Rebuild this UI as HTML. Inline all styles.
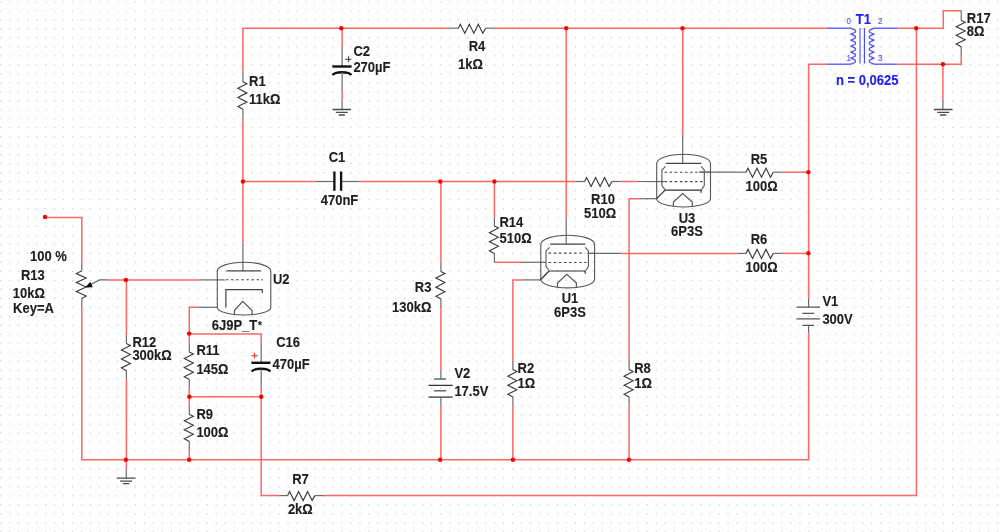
<!DOCTYPE html>
<html><head><meta charset="utf-8"><title>Schematic</title>
<style>html,body{margin:0;padding:0;background:#fff;width:1000px;height:532px;overflow:hidden}
svg{display:block;will-change:transform;font-family:"Liberation Sans",sans-serif}</style></head>
<body><svg width="1000" height="532" viewBox="0 0 1000 532">
<rect width="1000" height="532" fill="#fff"/>
<path d="M0.1,2 H1001 M0.1,10.98 H1001 M0.1,19.96 H1001 M0.1,28.94 H1001 M0.1,37.92 H1001 M0.1,46.9 H1001 M0.1,55.88 H1001 M0.1,64.86 H1001 M0.1,73.84 H1001 M0.1,82.82 H1001 M0.1,91.8 H1001 M0.1,100.78 H1001 M0.1,109.76 H1001 M0.1,118.74 H1001 M0.1,127.72 H1001 M0.1,136.7 H1001 M0.1,145.68 H1001 M0.1,154.66 H1001 M0.1,163.64 H1001 M0.1,172.62 H1001 M0.1,181.6 H1001 M0.1,190.58 H1001 M0.1,199.56 H1001 M0.1,208.54 H1001 M0.1,217.52 H1001 M0.1,226.5 H1001 M0.1,235.48 H1001 M0.1,244.46 H1001 M0.1,253.44 H1001 M0.1,262.42 H1001 M0.1,271.4 H1001 M0.1,280.38 H1001 M0.1,289.36 H1001 M0.1,298.34 H1001 M0.1,307.32 H1001 M0.1,316.3 H1001 M0.1,325.28 H1001 M0.1,334.26 H1001 M0.1,343.24 H1001 M0.1,352.22 H1001 M0.1,361.2 H1001 M0.1,370.18 H1001 M0.1,379.16 H1001 M0.1,388.14 H1001 M0.1,397.12 H1001 M0.1,406.1 H1001 M0.1,415.08 H1001 M0.1,424.06 H1001 M0.1,433.04 H1001 M0.1,442.02 H1001 M0.1,451 H1001 M0.1,459.98 H1001 M0.1,468.96 H1001 M0.1,477.94 H1001 M0.1,486.92 H1001 M0.1,495.9 H1001 M0.1,504.88 H1001 M0.1,513.86 H1001 M0.1,522.84 H1001 M0.1,531.82 H1001" stroke="#cbcbcb" stroke-width="1.2" stroke-dasharray="1.2 7.78" fill="none"/>
<path d="M242.9,73.2 L242.9,28.2 L449.9,28.2" stroke="#ff6666" stroke-width="1.5" fill="none" />
<path d="M494,28.2 L826.7,28.2" stroke="#ff6666" stroke-width="1.5" fill="none" />
<path d="M242.9,73.2 L242.9,81.8" stroke="#6a6a6a" stroke-width="1.2" fill="none" />
<path d="M242.9,81.8 L246.9,83.81 L237.9,88.35 L246.9,92.88 L237.9,97.41 L246.9,101.95 L237.9,106.48 L242.9,109.3" stroke="#3c3c3c" stroke-width="1.15" fill="none" />
<path d="M242.9,109.3 L242.9,117.9" stroke="#6a6a6a" stroke-width="1.2" fill="none" />
<path d="M242.9,117.9 L242.9,243.5" stroke="#ff6666" stroke-width="1.5" fill="none" />
<path d="M242.9,243.5 L242.9,271" stroke="#6a6a6a" stroke-width="1.2" fill="none" />
<path d="M342.1,28.2 L342.1,46.8" stroke="#ff6666" stroke-width="1.5" fill="none" />
<path d="M342.1,46.8 L342.1,66.5" stroke="#6a6a6a" stroke-width="1.2" fill="none" />
<path d="M332.3,66.5 H351.6" stroke="#111" stroke-width="2.4"/>
<path d="M332.6,75.2 C335,71.2 349,71.2 351.3,75.2" stroke="#111" stroke-width="2.4" fill="none"/>
<path d="M342.1,72.2 L342.1,91.1" stroke="#6a6a6a" stroke-width="1.2" fill="none" />
<path d="M342.1,91.1 L342.1,99.4" stroke="#ff6666" stroke-width="1.5" fill="none" />
<path d="M342.1,99.4 L342.1,109.5" stroke="#6a6a6a" stroke-width="1.2" fill="none" />
<path d="M332.6,109.5 h18.4 M335.8,112.4 h12 M338.7,115 h6.2" stroke="#4a4a4a" stroke-width="1.3" fill="none"/>
<path d="M345.4,59.3 h6 M348.6,56.3 v5.8" stroke="#333" stroke-width="1"/>
<path d="M449.9,28.2 L458.3,28.2" stroke="#6a6a6a" stroke-width="1.2" fill="none" />
<path d="M458.3,28.2 L460.3,24.2 L464.8,33.2 L469.3,24.2 L473.8,33.2 L478.3,24.2 L482.8,33.2 L485.6,28.2" stroke="#3c3c3c" stroke-width="1.15" fill="none" stroke-linejoin="miter"/>
<path d="M485.6,28.2 L494,28.2" stroke="#6a6a6a" stroke-width="1.2" fill="none" />
<path d="M566.2,28.2 L566.2,217.5" stroke="#ff6666" stroke-width="1.5" fill="none" />
<path d="M566.2,217.5 L566.2,243.8" stroke="#6a6a6a" stroke-width="1.2" fill="none" />
<path d="M682.7,28.2 L682.7,135.8" stroke="#ff6666" stroke-width="1.5" fill="none" />
<path d="M682.7,135.8 L682.7,163.3" stroke="#6a6a6a" stroke-width="1.2" fill="none" />
<path d="M826.7,64.2 L808.6,64.2 L808.6,298.4" stroke="#ff6666" stroke-width="1.5" fill="none" />
<path d="M808.6,298.4 L808.6,307.2" stroke="#6a6a6a" stroke-width="1.2" fill="none" />
<path d="M796.4,307.2 H820.1 M796.4,318.8 H820.1" stroke="#555" stroke-width="1.3"/>
<path d="M802.4,313.3 H814 M802.4,325.4 H814" stroke="#555" stroke-width="1.3"/>
<path d="M808.6,325.4 L808.6,333.3" stroke="#6a6a6a" stroke-width="1.2" fill="none" />
<path d="M808.6,333.3 L808.6,459.7 L81.8,459.7 L81.8,306.9" stroke="#ff6666" stroke-width="1.5" fill="none" />
<path d="M242.9,181.5 L315.5,181.5" stroke="#ff6666" stroke-width="1.5" fill="none" />
<path d="M315.5,181.5 L334,181.5" stroke="#6a6a6a" stroke-width="1.2" fill="none" />
<path d="M341.5,181.5 L359.6,181.5" stroke="#6a6a6a" stroke-width="1.2" fill="none" />
<path d="M334.4,171.6 V190.7 M341.1,171.6 V190.7" stroke="#111" stroke-width="2.3"/>
<path d="M359.6,181.5 L575.8,181.5" stroke="#ff6666" stroke-width="1.5" fill="none" />
<path d="M575.8,181.5 L584.6,181.5" stroke="#6a6a6a" stroke-width="1.2" fill="none" />
<path d="M584.6,181.5 L586.6,177.5 L591.1,186.5 L595.6,177.5 L600.1,186.5 L604.6,177.5 L609.1,186.5 L611.9,181.5" stroke="#3c3c3c" stroke-width="1.15" fill="none" stroke-linejoin="miter"/>
<path d="M611.9,181.5 L620.7,181.5" stroke="#6a6a6a" stroke-width="1.2" fill="none" />
<path d="M620.5,181.5 L637.5,181.5" stroke="#ff6666" stroke-width="1.5" fill="none" />
<path d="M637.5,181.5 L664.4,181.6" stroke="#6a6a6a" stroke-width="1.2" fill="none" />
<path d="M440.9,181.5 L440.9,262.8" stroke="#ff6666" stroke-width="1.5" fill="none" />
<path d="M440.9,262.8 L440.9,271.4" stroke="#6a6a6a" stroke-width="1.2" fill="none" />
<path d="M440.9,271.4 L444.9,273.43 L435.9,278 L444.9,282.56 L435.9,287.13 L444.9,291.69 L435.9,296.26 L440.9,299.1" stroke="#3c3c3c" stroke-width="1.15" fill="none" />
<path d="M440.9,299.1 L440.9,307.7" stroke="#6a6a6a" stroke-width="1.2" fill="none" />
<path d="M440.9,306.3 L440.9,370.2" stroke="#ff6666" stroke-width="1.5" fill="none" />
<path d="M440.9,370.2 L440.9,379" stroke="#6a6a6a" stroke-width="1.2" fill="none" />
<path d="M434.1,379 H446 M434.1,390.8 H446" stroke="#666" stroke-width="1.4"/>
<path d="M428.5,385.4 H452.7 M428.5,397.2 H452.7" stroke="#333" stroke-width="1.2"/>
<path d="M440.9,397.2 L440.9,405.7" stroke="#6a6a6a" stroke-width="1.2" fill="none" />
<path d="M440.9,405.7 L440.9,459.7" stroke="#ff6666" stroke-width="1.5" fill="none" />
<path d="M494.4,181.5 L494.4,217.5" stroke="#ff6666" stroke-width="1.5" fill="none" />
<path d="M494.4,217.5 L494.4,226.1" stroke="#6a6a6a" stroke-width="1.2" fill="none" />
<path d="M494.4,226.1 L498.4,228.11 L489.4,232.65 L498.4,237.18 L489.4,241.71 L498.4,246.25 L489.4,250.78 L494.4,253.6" stroke="#3c3c3c" stroke-width="1.15" fill="none" />
<path d="M494.4,253.6 L494.4,262.2" stroke="#6a6a6a" stroke-width="1.2" fill="none" />
<path d="M494.4,262 L496,262.3" stroke="#6a6a6a" stroke-width="1.2" fill="none" />
<path d="M496,262.3 L521,262.3" stroke="#ff6666" stroke-width="1.5" fill="none" />
<path d="M521,262.3 L546,262.3" stroke="#6a6a6a" stroke-width="1.2" fill="none" />
<path d="M541,279.9 L522.2,279.9" stroke="#6a6a6a" stroke-width="1.2" fill="none" />
<path d="M522.2,279.9 L512.9,279.9 L512.9,361" stroke="#ff6666" stroke-width="1.5" fill="none" />
<path d="M512.9,361 L512.9,369.6" stroke="#6a6a6a" stroke-width="1.2" fill="none" />
<path d="M512.9,369.6 L516.9,371.61 L507.9,376.15 L516.9,380.68 L507.9,385.21 L516.9,389.75 L507.9,394.28 L512.9,397.1" stroke="#3c3c3c" stroke-width="1.15" fill="none" />
<path d="M512.9,397.1 L512.9,405.7" stroke="#6a6a6a" stroke-width="1.2" fill="none" />
<path d="M512.9,405.8 L512.9,459.7" stroke="#ff6666" stroke-width="1.5" fill="none" />
<path d="M656.7,198.7 L638.7,198.7" stroke="#6a6a6a" stroke-width="1.2" fill="none" />
<path d="M638.7,198.7 L629.1,198.7 L629.1,361" stroke="#ff6666" stroke-width="1.5" fill="none" />
<path d="M629.1,361 L629.1,369.6" stroke="#6a6a6a" stroke-width="1.2" fill="none" />
<path d="M629.1,369.6 L633.1,371.61 L624.1,376.15 L633.1,380.68 L624.1,385.21 L633.1,389.75 L624.1,394.28 L629.1,397.1" stroke="#3c3c3c" stroke-width="1.15" fill="none" />
<path d="M629.1,397.1 L629.1,405.7" stroke="#6a6a6a" stroke-width="1.2" fill="none" />
<path d="M629.1,405.8 L629.1,459.7" stroke="#ff6666" stroke-width="1.5" fill="none" />
<path d="M587.4,253.4 L621.2,253.4" stroke="#6a6a6a" stroke-width="1.2" fill="none" />
<path d="M621.2,253.4 L737.6,253.4" stroke="#ff6666" stroke-width="1.5" fill="none" />
<path d="M737.6,253.4 L746,253.4" stroke="#6a6a6a" stroke-width="1.2" fill="none" />
<path d="M746,253.4 L748,249.4 L752.5,258.4 L757,249.4 L761.5,258.4 L766,249.4 L770.5,258.4 L773.3,253.4" stroke="#3c3c3c" stroke-width="1.15" fill="none" stroke-linejoin="miter"/>
<path d="M773.3,253.4 L781.7,253.4" stroke="#6a6a6a" stroke-width="1.2" fill="none" />
<path d="M781.6,253.4 L808.6,253.4" stroke="#ff6666" stroke-width="1.5" fill="none" />
<path d="M699.4,172.2 L737.6,172.2" stroke="#6a6a6a" stroke-width="1.2" fill="none" />
<path d="M737.6,172.2 L746,172.2" stroke="#6a6a6a" stroke-width="1.2" fill="none" />
<path d="M746,172.2 L748,168.2 L752.5,177.2 L757,168.2 L761.5,177.2 L766,168.2 L770.5,177.2 L773.3,172.2" stroke="#3c3c3c" stroke-width="1.15" fill="none" stroke-linejoin="miter"/>
<path d="M773.3,172.2 L781.7,172.2" stroke="#6a6a6a" stroke-width="1.2" fill="none" />
<path d="M781.6,172.2 L808.6,172.2" stroke="#ff6666" stroke-width="1.5" fill="none" />
<path d="M897.5,28.2 L943.3,28.2 L943.3,10.8 L961.2,10.8" stroke="#ff6666" stroke-width="1.5" fill="none" />
<path d="M961.2,10.8 L961.2,20.4" stroke="#6a6a6a" stroke-width="1.2" fill="none" />
<path d="M961.2,20.4 L965.2,22.33 L956.2,26.66 L965.2,31 L956.2,35.33 L965.2,39.67 L956.2,44 L961.2,46.7" stroke="#3c3c3c" stroke-width="1.15" fill="none" />
<path d="M961.2,46.7 L961.2,55.9" stroke="#6a6a6a" stroke-width="1.2" fill="none" />
<path d="M961.2,55.9 L961.2,64.2 L897.5,64.2" stroke="#ff6666" stroke-width="1.5" fill="none" />
<path d="M942.9,64.2 L942.9,99.8" stroke="#ff6666" stroke-width="1.5" fill="none" />
<path d="M942.9,99.8 L942.9,109.3" stroke="#6a6a6a" stroke-width="1.2" fill="none" />
<path d="M934,109.5 h18.4 M937.2,112.4 h12 M940.1,115 h6.2" stroke="#4a4a4a" stroke-width="1.3" fill="none"/>
<path d="M916.4,28.2 L916.4,495.6 L322.6,495.6" stroke="#ff6666" stroke-width="1.5" fill="none" />
<path d="M279.2,495.6 L287.6,495.6" stroke="#6a6a6a" stroke-width="1.2" fill="none" />
<path d="M287.6,495.6 L289.6,491.6 L294.1,500.6 L298.6,491.6 L303.1,500.6 L307.6,491.6 L312.1,500.6 L314.9,495.6" stroke="#3c3c3c" stroke-width="1.15" fill="none" stroke-linejoin="miter"/>
<path d="M314.9,495.6 L323.3,495.6" stroke="#6a6a6a" stroke-width="1.2" fill="none" />
<path d="M279.2,495.6 L261.2,495.6 L261.2,387.6" stroke="#ff6666" stroke-width="1.5" fill="none" />
<path d="M189.3,333.9 L261.2,333.9 L261.2,343.5" stroke="#ff6666" stroke-width="1.5" fill="none" />
<path d="M261.2,343.5 L261.2,362.8" stroke="#6a6a6a" stroke-width="1.2" fill="none" />
<path d="M251.4,362.8 H270.4" stroke="#111" stroke-width="2.4"/>
<path d="M251.7,371.6 C254,367.7 268.2,367.7 270.3,371.6" stroke="#111" stroke-width="2.4" fill="none"/>
<path d="M261.2,369 L261.2,387.6" stroke="#6a6a6a" stroke-width="1.2" fill="none" />
<path d="M251.3,355.7 h6.4 M254.4,352.8 v5.8" stroke="#ff2a2a" stroke-width="1.1"/>
<path d="M189.3,396.7 L261.2,396.7" stroke="#ff6666" stroke-width="1.5" fill="none" />
<path d="M217.3,307.3 L197.9,307.3" stroke="#6a6a6a" stroke-width="1.2" fill="none" />
<path d="M197.9,307.3 L189.3,307.3 L189.3,343.3" stroke="#ff6666" stroke-width="1.5" fill="none" />
<path d="M189.3,343.3 L189.3,352" stroke="#6a6a6a" stroke-width="1.2" fill="none" />
<path d="M189.3,352 L193.3,354.01 L184.3,358.55 L193.3,363.08 L184.3,367.61 L193.3,372.15 L184.3,376.68 L189.3,379.5" stroke="#3c3c3c" stroke-width="1.15" fill="none" />
<path d="M189.3,379.5 L189.3,388.2" stroke="#6a6a6a" stroke-width="1.2" fill="none" />
<path d="M189.3,387.5 L189.3,406" stroke="#ff6666" stroke-width="1.5" fill="none" />
<path d="M189.3,406 L189.3,414.3" stroke="#6a6a6a" stroke-width="1.2" fill="none" />
<path d="M189.3,414.3 L193.3,416.3 L184.3,420.8 L193.3,425.3 L184.3,429.8 L193.3,434.3 L184.3,438.8 L189.3,441.6" stroke="#3c3c3c" stroke-width="1.15" fill="none" />
<path d="M189.3,441.6 L189.3,449.9" stroke="#6a6a6a" stroke-width="1.2" fill="none" />
<path d="M189.3,449.9 L189.3,459.7" stroke="#ff6666" stroke-width="1.5" fill="none" />
<path d="M126.4,279.9 L126.4,335" stroke="#ff6666" stroke-width="1.5" fill="none" />
<path d="M126.4,335 L126.4,343.4" stroke="#6a6a6a" stroke-width="1.2" fill="none" />
<path d="M126.4,343.4 L130.4,345.4 L121.4,349.9 L130.4,354.4 L121.4,358.9 L130.4,363.4 L121.4,367.9 L126.4,370.7" stroke="#3c3c3c" stroke-width="1.15" fill="none" />
<path d="M126.4,370.7 L126.4,379.1" stroke="#6a6a6a" stroke-width="1.2" fill="none" />
<path d="M126.4,379.1 L126.4,459.7" stroke="#ff6666" stroke-width="1.5" fill="none" />
<path d="M126.3,459.7 L126.3,469.8" stroke="#ff6666" stroke-width="1.5" fill="none" />
<path d="M126.3,469.8 L126.3,478.2" stroke="#6a6a6a" stroke-width="1.2" fill="none" />
<path d="M116.9,478.2 h18.4 M120.1,481.1 h12 M123,483.7 h6.2" stroke="#4a4a4a" stroke-width="1.3" fill="none"/>
<path d="M45,217.6 L81.8,217.6 L81.8,262.9" stroke="#ff6666" stroke-width="1.5" fill="none" />
<path d="M81.8,262.9 L81.8,270.8" stroke="#6a6a6a" stroke-width="1.2" fill="none" />
<path d="M81.8,270.8 L76.34,273.6 L86.17,278.1 L76.34,282.6 L86.17,287.1 L76.34,291.6 L86.17,296.1 L81.8,298.4" stroke="#3c3c3c" stroke-width="1.15" fill="none" />
<path d="M81.8,298.4 L81.8,306.9" stroke="#6a6a6a" stroke-width="1.2" fill="none" />
<path d="M108.5,279.9 L99.5,279.9 L88,286" stroke="#6a6a6a" stroke-width="1.2" fill="none" />
<path d="M85.1,287.4 L90.4,281.8 L92.8,287.2 Z" fill="#111"/>
<path d="M108.5,279.9 L198.8,279.9" stroke="#ff6666" stroke-width="1.5" fill="none" />
<path d="M198.8,279.9 L224.7,279.9" stroke="#6a6a6a" stroke-width="1.2" fill="none" />
<path d="M656.7,198.7 V163.5 A26.9 9.2 0 0 1 710.5,163.5 V198.7 A26.9 8.3 0 0 1 656.7,198.7" stroke="#555" stroke-width="1.1" fill="none"/>
<path d="M666.1,163.3 H701.1" stroke="#444" stroke-width="1.3"/>
<path d="M665.5,166.4 L661.9,170 V185.6 L665,189.6 M701.1,166.4 L704.3,170 V185.6 L701.6,189.6" stroke="#555" stroke-width="1.1" fill="none"/>
<path d="M664.6,172.2 H699.4 M664.6,181.6 H702.5" stroke="#444" stroke-width="1.1" stroke-dasharray="2.4 2.7" fill="none"/>
<path d="M665,190.1 H701.1 V192.8 M665,190.1 L656.7,198.6" stroke="#333" stroke-width="1.2" fill="none"/>
<path d="M673.4,206.6 V202.1 L682.7,193.5 L692.3,202.1 V206.6" stroke="#555" stroke-width="1.2" fill="none"/>
<path d="M710.5,172.2 L699.4,172.2" stroke="#6a6a6a" stroke-width="1.2" fill="none" />
<path d="M540.8,279.6 V244.4 A26.9 9.2 0 0 1 594.6,244.4 V279.6 A26.9 8.3 0 0 1 540.8,279.6" stroke="#555" stroke-width="1.1" fill="none"/>
<path d="M550.2,244.2 H585.2" stroke="#444" stroke-width="1.3"/>
<path d="M549.6,247.3 L546,250.9 V266.5 L549.1,270.5 M585.2,247.3 L588.4,250.9 V266.5 L585.7,270.5" stroke="#555" stroke-width="1.1" fill="none"/>
<path d="M548.7,253.1 H583.5 M548.7,262.5 H586.6" stroke="#444" stroke-width="1.1" stroke-dasharray="2.4 2.7" fill="none"/>
<path d="M549.1,271 H585.2 V273.7 M549.1,271 L540.8,279.5" stroke="#333" stroke-width="1.2" fill="none"/>
<path d="M557.5,287.5 V283 L566.8,274.4 L576.4,283 V287.5" stroke="#555" stroke-width="1.2" fill="none"/>
<path d="M587.4,253.4 L594.6,253.4" stroke="#6a6a6a" stroke-width="1.2" fill="none" />
<path d="M217.3,307.5 V271 A26.75 8.7 0 0 1 270.8,271 V307.5 A26.75 7.5 0 0 1 217.3,307.5" stroke="#555" stroke-width="1.1" fill="none"/>
<path d="M226.5,270.9 H260.7" stroke="#444" stroke-width="1.3"/>
<path d="M226,279.8 H263" stroke="#444" stroke-width="1.1" stroke-dasharray="2.4 2.7"/>
<path d="M225.9,307.5 V289.6 H262.3 V293" stroke="#444" stroke-width="1.2" fill="none"/>
<path d="M234.4,315 V310.6 L242.7,301.4 L252.1,310.6 V315" stroke="#555" stroke-width="1.2" fill="none"/>
<path d="M826.7,28.2 L826.7,28.2" stroke="#ff6666" stroke-width="1.5" fill="none" />
<path d="M826.7,28.2 L851,28.2" stroke="#5050ff" stroke-width="1.3" fill="none" />
<path d="M826.7,64.2 L851,64.2" stroke="#5050ff" stroke-width="1.3" fill="none" />
<path d="M850.8,28.2 L854.8,29.9 Q856.3,31.2 854.8,32.5 L850.8,34.2 L854.8,35.9 Q856.3,37.2 854.8,38.5 L850.8,40.2 L854.8,41.9 Q856.3,43.2 854.8,44.5 L850.8,46.2 L854.8,47.9 Q856.3,49.2 854.8,50.5 L850.8,52.2 L854.8,53.9 Q856.3,55.2 854.8,56.5 L850.8,58.2 L854.8,59.9 Q856.3,61.2 854.8,62.5 L850.8,64.2 " stroke="#5050ff" stroke-width="1.3" fill="none" stroke-linejoin="round"/>
<path d="M860,28 V63.5" stroke="#7070ff" stroke-width="1.4"/><path d="M864.4,28 V63.5" stroke="#4040ff" stroke-width="1.1"/>
<path d="M874,28.2 L870,29.9 Q868.5,31.2 870,32.5 L874,34.2 L870,35.9 Q868.5,37.2 870,38.5 L874,40.2 L870,41.9 Q868.5,43.2 870,44.5 L874,46.2 L870,47.9 Q868.5,49.2 870,50.5 L874,52.2 L870,53.9 Q868.5,55.2 870,56.5 L874,58.2 L870,59.9 Q868.5,61.2 870,62.5 L874,64.2 " stroke="#5050ff" stroke-width="1.3" fill="none" stroke-linejoin="round"/>
<path d="M874,28.2 L897.5,28.2" stroke="#5050ff" stroke-width="1.3" fill="none" />
<path d="M874,64.2 L897.5,64.2" stroke="#5050ff" stroke-width="1.3" fill="none" />
<text transform="translate(846.5 24.3) scale(1 1.06)" font-size="8" fill="#5050ff" stroke="#5050ff" stroke-width="0.12" text-anchor="start" font-weight="normal">0</text>
<text transform="translate(878 24.3) scale(1 1.06)" font-size="8" fill="#5050ff" stroke="#5050ff" stroke-width="0.12" text-anchor="start" font-weight="normal">2</text>
<text transform="translate(846.5 60.5) scale(1 1.06)" font-size="8" fill="#5050ff" stroke="#5050ff" stroke-width="0.12" text-anchor="start" font-weight="normal">1</text>
<text transform="translate(878 60.5) scale(1 1.06)" font-size="8" fill="#5050ff" stroke="#5050ff" stroke-width="0.12" text-anchor="start" font-weight="normal">3</text>
<text transform="translate(863.3 24) scale(1 1.06)" font-size="13" fill="#2222f4" stroke="#2222f4" stroke-width="0.12" text-anchor="middle" font-weight="bold">T1</text>
<text transform="translate(867.2 84.7) scale(1 1.06)" font-size="13" fill="#2222f4" stroke="#2222f4" stroke-width="0.12" text-anchor="middle" font-weight="bold">n = 0,0625</text>
<circle cx="341.3" cy="28.2" r="2.2" fill="#ff0000"/>
<circle cx="566.2" cy="28.2" r="2.2" fill="#ff0000"/>
<circle cx="682.5" cy="28.2" r="2.2" fill="#ff0000"/>
<circle cx="916.2" cy="28.2" r="2.2" fill="#ff0000"/>
<circle cx="942.9" cy="64.2" r="2.2" fill="#ff0000"/>
<circle cx="242.9" cy="181.5" r="2.2" fill="#ff0000"/>
<circle cx="440.3" cy="181.5" r="2.2" fill="#ff0000"/>
<circle cx="494.4" cy="181.5" r="2.2" fill="#ff0000"/>
<circle cx="808.4" cy="172.2" r="2.2" fill="#ff0000"/>
<circle cx="808.4" cy="253.2" r="2.2" fill="#ff0000"/>
<circle cx="125.9" cy="279.9" r="2.2" fill="#ff0000"/>
<circle cx="189.1" cy="333.6" r="2.2" fill="#ff0000"/>
<circle cx="189.3" cy="396.7" r="2.2" fill="#ff0000"/>
<circle cx="261.2" cy="396.7" r="2.2" fill="#ff0000"/>
<circle cx="125.8" cy="459.7" r="2.2" fill="#ff0000"/>
<circle cx="189.1" cy="459.7" r="2.2" fill="#ff0000"/>
<circle cx="440.2" cy="459.7" r="2.2" fill="#ff0000"/>
<circle cx="512.9" cy="459.7" r="2.2" fill="#ff0000"/>
<circle cx="628.9" cy="459.7" r="2.2" fill="#ff0000"/>
<circle cx="45" cy="217" r="2.2" fill="#ff0000"/>
<text transform="translate(249.1 85.5) scale(1 1.06)" font-size="13" fill="#1e1e1e" stroke="#1e1e1e" stroke-width="0.12" text-anchor="start" font-weight="bold">R1</text>
<text transform="translate(249.1 103.5) scale(1 1.06)" font-size="13" fill="#1e1e1e" stroke="#1e1e1e" stroke-width="0.12" text-anchor="start" font-weight="bold">11kΩ</text>
<text transform="translate(353.4 56) scale(1 1.06)" font-size="13" fill="#1e1e1e" stroke="#1e1e1e" stroke-width="0.12" text-anchor="start" font-weight="bold">C2</text>
<text transform="translate(353.4 71.6) scale(1 1.06)" font-size="13" fill="#1e1e1e" stroke="#1e1e1e" stroke-width="0.12" text-anchor="start" font-weight="bold">270µF</text>
<text transform="translate(477 51.3) scale(1 1.06)" font-size="13" fill="#1e1e1e" stroke="#1e1e1e" stroke-width="0.12" text-anchor="middle" font-weight="bold">R4</text>
<text transform="translate(470.5 68.8) scale(1 1.06)" font-size="13" fill="#1e1e1e" stroke="#1e1e1e" stroke-width="0.12" text-anchor="middle" font-weight="bold">1kΩ</text>
<text transform="translate(966.8 22.6) scale(1 1.06)" font-size="13" fill="#1e1e1e" stroke="#1e1e1e" stroke-width="0.12" text-anchor="start" font-weight="bold">R17</text>
<text transform="translate(966.8 36.4) scale(1 1.06)" font-size="13" fill="#1e1e1e" stroke="#1e1e1e" stroke-width="0.12" text-anchor="start" font-weight="bold">8Ω</text>
<text transform="translate(337 162) scale(1 1.06)" font-size="13" fill="#1e1e1e" stroke="#1e1e1e" stroke-width="0.12" text-anchor="middle" font-weight="bold">C1</text>
<text transform="translate(339.5 204.6) scale(1 1.06)" font-size="13" fill="#1e1e1e" stroke="#1e1e1e" stroke-width="0.12" text-anchor="middle" font-weight="bold">470nF</text>
<text transform="translate(603 203.8) scale(1 1.06)" font-size="13" fill="#1e1e1e" stroke="#1e1e1e" stroke-width="0.12" text-anchor="middle" font-weight="bold">R10</text>
<text transform="translate(600 217.6) scale(1 1.06)" font-size="13" fill="#1e1e1e" stroke="#1e1e1e" stroke-width="0.12" text-anchor="middle" font-weight="bold">510Ω</text>
<text transform="translate(499.5 227) scale(1 1.06)" font-size="13" fill="#1e1e1e" stroke="#1e1e1e" stroke-width="0.12" text-anchor="start" font-weight="bold">R14</text>
<text transform="translate(499.5 242.7) scale(1 1.06)" font-size="13" fill="#1e1e1e" stroke="#1e1e1e" stroke-width="0.12" text-anchor="start" font-weight="bold">510Ω</text>
<text transform="translate(687 222.5) scale(1 1.06)" font-size="13" fill="#1e1e1e" stroke="#1e1e1e" stroke-width="0.12" text-anchor="middle" font-weight="bold">U3</text>
<text transform="translate(687 236.3) scale(1 1.06)" font-size="13" fill="#1e1e1e" stroke="#1e1e1e" stroke-width="0.12" text-anchor="middle" font-weight="bold">6P3S</text>
<text transform="translate(570 302.7) scale(1 1.06)" font-size="13" fill="#1e1e1e" stroke="#1e1e1e" stroke-width="0.12" text-anchor="middle" font-weight="bold">U1</text>
<text transform="translate(570 316.6) scale(1 1.06)" font-size="13" fill="#1e1e1e" stroke="#1e1e1e" stroke-width="0.12" text-anchor="middle" font-weight="bold">6P3S</text>
<text transform="translate(759 163.6) scale(1 1.06)" font-size="13" fill="#1e1e1e" stroke="#1e1e1e" stroke-width="0.12" text-anchor="middle" font-weight="bold">R5</text>
<text transform="translate(761.6 190.5) scale(1 1.06)" font-size="13" fill="#1e1e1e" stroke="#1e1e1e" stroke-width="0.12" text-anchor="middle" font-weight="bold">100Ω</text>
<text transform="translate(759 244.4) scale(1 1.06)" font-size="13" fill="#1e1e1e" stroke="#1e1e1e" stroke-width="0.12" text-anchor="middle" font-weight="bold">R6</text>
<text transform="translate(761.6 271.5) scale(1 1.06)" font-size="13" fill="#1e1e1e" stroke="#1e1e1e" stroke-width="0.12" text-anchor="middle" font-weight="bold">100Ω</text>
<text transform="translate(822.4 306.3) scale(1 1.06)" font-size="13" fill="#1e1e1e" stroke="#1e1e1e" stroke-width="0.12" text-anchor="start" font-weight="bold">V1</text>
<text transform="translate(822.4 324.2) scale(1 1.06)" font-size="13" fill="#1e1e1e" stroke="#1e1e1e" stroke-width="0.12" text-anchor="start" font-weight="bold">300V</text>
<text transform="translate(431.4 292.2) scale(1 1.06)" font-size="13" fill="#1e1e1e" stroke="#1e1e1e" stroke-width="0.12" text-anchor="end" font-weight="bold">R3</text>
<text transform="translate(431.4 312.2) scale(1 1.06)" font-size="13" fill="#1e1e1e" stroke="#1e1e1e" stroke-width="0.12" text-anchor="end" font-weight="bold">130kΩ</text>
<text transform="translate(454.4 378.3) scale(1 1.06)" font-size="13" fill="#1e1e1e" stroke="#1e1e1e" stroke-width="0.12" text-anchor="start" font-weight="bold">V2</text>
<text transform="translate(454.4 396) scale(1 1.06)" font-size="13" fill="#1e1e1e" stroke="#1e1e1e" stroke-width="0.12" text-anchor="start" font-weight="bold">17.5V</text>
<text transform="translate(517.6 373.4) scale(1 1.06)" font-size="13" fill="#1e1e1e" stroke="#1e1e1e" stroke-width="0.12" text-anchor="start" font-weight="bold">R2</text>
<text transform="translate(517.6 388) scale(1 1.06)" font-size="13" fill="#1e1e1e" stroke="#1e1e1e" stroke-width="0.12" text-anchor="start" font-weight="bold">1Ω</text>
<text transform="translate(634.2 373.4) scale(1 1.06)" font-size="13" fill="#1e1e1e" stroke="#1e1e1e" stroke-width="0.12" text-anchor="start" font-weight="bold">R8</text>
<text transform="translate(634.2 388) scale(1 1.06)" font-size="13" fill="#1e1e1e" stroke="#1e1e1e" stroke-width="0.12" text-anchor="start" font-weight="bold">1Ω</text>
<text transform="translate(273 284.3) scale(1 1.06)" font-size="13" fill="#1e1e1e" stroke="#1e1e1e" stroke-width="0.12" text-anchor="start" font-weight="bold">U2</text>
<text transform="translate(211.8 330.3) scale(1 1.06)" font-size="13" fill="#1e1e1e" stroke="#1e1e1e" stroke-width="0.12" text-anchor="start" font-weight="bold">6J9P_T<tspan font-size="10" dx="0.8" dy="-1.5">*</tspan></text>
<text transform="translate(132.4 346.8) scale(1 1.06)" font-size="13" fill="#1e1e1e" stroke="#1e1e1e" stroke-width="0.12" text-anchor="start" font-weight="bold">R12</text>
<text transform="translate(132.4 360.4) scale(1 1.06)" font-size="13" fill="#1e1e1e" stroke="#1e1e1e" stroke-width="0.12" text-anchor="start" font-weight="bold">300kΩ</text>
<text transform="translate(196.4 355.3) scale(1 1.06)" font-size="13" fill="#1e1e1e" stroke="#1e1e1e" stroke-width="0.12" text-anchor="start" font-weight="bold">R11</text>
<text transform="translate(196.4 373.6) scale(1 1.06)" font-size="13" fill="#1e1e1e" stroke="#1e1e1e" stroke-width="0.12" text-anchor="start" font-weight="bold">145Ω</text>
<text transform="translate(276.2 347.4) scale(1 1.06)" font-size="13" fill="#1e1e1e" stroke="#1e1e1e" stroke-width="0.12" text-anchor="start" font-weight="bold">C16</text>
<text transform="translate(272.5 369.4) scale(1 1.06)" font-size="13" fill="#1e1e1e" stroke="#1e1e1e" stroke-width="0.12" text-anchor="start" font-weight="bold">470µF</text>
<text transform="translate(196.4 418.7) scale(1 1.06)" font-size="13" fill="#1e1e1e" stroke="#1e1e1e" stroke-width="0.12" text-anchor="start" font-weight="bold">R9</text>
<text transform="translate(196.4 437.1) scale(1 1.06)" font-size="13" fill="#1e1e1e" stroke="#1e1e1e" stroke-width="0.12" text-anchor="start" font-weight="bold">100Ω</text>
<text transform="translate(300.5 484) scale(1 1.06)" font-size="13" fill="#1e1e1e" stroke="#1e1e1e" stroke-width="0.12" text-anchor="middle" font-weight="bold">R7</text>
<text transform="translate(300.3 514) scale(1 1.06)" font-size="13" fill="#1e1e1e" stroke="#1e1e1e" stroke-width="0.12" text-anchor="middle" font-weight="bold">2kΩ</text>
<text transform="translate(66.8 261) scale(1 1.06)" font-size="13" fill="#1e1e1e" stroke="#1e1e1e" stroke-width="0.12" text-anchor="end" font-weight="bold">100 %</text>
<text transform="translate(44.8 280.3) scale(1 1.06)" font-size="13" fill="#1e1e1e" stroke="#1e1e1e" stroke-width="0.12" text-anchor="end" font-weight="bold">R13</text>
<text transform="translate(44.8 298) scale(1 1.06)" font-size="13" fill="#1e1e1e" stroke="#1e1e1e" stroke-width="0.12" text-anchor="end" font-weight="bold">10kΩ</text>
<text transform="translate(13.1 313) scale(1 1.06)" font-size="13" fill="#1e1e1e" stroke="#1e1e1e" stroke-width="0.12" text-anchor="start" font-weight="bold">Key=A</text>
</svg></body></html>
